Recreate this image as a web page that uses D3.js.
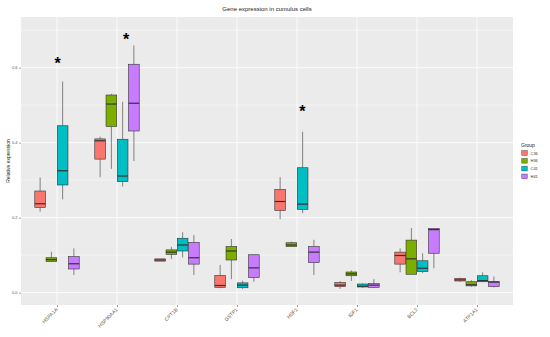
<!DOCTYPE html>
<html>
<head>
<meta charset="utf-8">
<script src="https://cdn.jsdelivr.net/npm/d3@7"></script>
<style>
  body { margin: 0; background: #fff; }
  text { font-family: "Liberation Sans", Arial, sans-serif; }
</style>
</head>
<body>
<div id="chart"></div>
<script>
var genes = ["HSPA1A", "HSP90AA1", "CPT1B", "GSTP1", "HSF1", "IGF1", "BCL2", "ATP1A1"];
var groups = ["C36", "H36", "C41", "H41"];
var groupColors = ["#F8766D", "#7CAE00", "#00BFC4", "#C77CFF"];

// each entry: [min, q1, median, q3, max] for one gene
var c36 = [
  [0.216, 0.227, 0.237, 0.271, 0.307],
  [0.308, 0.356, 0.405, 0.410, 0.416],
  [0.084, 0.084, 0.087, 0.090, 0.090],
  [0.012, 0.014, 0.019, 0.046, 0.074],
  [0.196, 0.219, 0.243, 0.275, 0.308],
  [0.010, 0.016, 0.020, 0.027, 0.031],
  [0.054, 0.076, 0.099, 0.108, 0.118],
  [0.029, 0.031, 0.034, 0.038, 0.040]
];
var h36 = [
  [0.082, 0.083, 0.088, 0.093, 0.109],
  [0.330, 0.443, 0.503, 0.527, 0.530],
  [0.090, 0.102, 0.108, 0.114, 0.122],
  [0.036, 0.087, 0.111, 0.123, 0.143],
  [0.122, 0.123, 0.127, 0.133, 0.136],
  [0.031, 0.045, 0.050, 0.055, 0.059],
  [0.049, 0.049, 0.090, 0.140, 0.172],
  [0.016, 0.018, 0.021, 0.029, 0.033]
];
var c41 = [
  [0.249, 0.287, 0.325, 0.445, 0.563],
  [0.283, 0.296, 0.311, 0.409, 0.509],
  [0.094, 0.111, 0.127, 0.145, 0.161],
  [0.010, 0.013, 0.020, 0.026, 0.032],
  [0.212, 0.222, 0.236, 0.333, 0.429],
  [0.013, 0.015, 0.017, 0.023, 0.025],
  [0.052, 0.056, 0.065, 0.085, 0.105],
  [0.028, 0.029, 0.032, 0.045, 0.054]
];
var h41 = [
  [0.047, 0.063, 0.077, 0.096, 0.118],
  [0.351, 0.431, 0.505, 0.609, 0.659],
  [0.047, 0.076, 0.093, 0.134, 0.154],
  [0.029, 0.040, 0.066, 0.101, 0.101],
  [0.047, 0.080, 0.108, 0.123, 0.141],
  [0.012, 0.014, 0.020, 0.024, 0.036],
  [0.065, 0.105, 0.168, 0.171, 0.171],
  [0.014, 0.016, 0.028, 0.030, 0.043]
];
var seriesData = [c36, h36, c41, h41];

// significance stars: gene, offset from gene centre (category units), height
var stars = [
  { gene: "HSPA1A", dx: 0.01, y: 0.613 },
  { gene: "HSP90AA1", dx: 0.15, y: 0.676 },
  { gene: "HSF1", dx: 0.09, y: 0.485 }
];
var yTicks = [0, 0.2, 0.4, 0.6];
var yMinor = [0.1, 0.3, 0.5, 0.7];

var width = 550;
var height = 337;
var panel = { left: 21, right: 513, top: 17, bottom: 305 };

var svg = d3.select("#chart").append("svg")
  .attr("width", width)
  .attr("height", height);

// discrete axis with 0.6 units of expansion on each side
var xScale = d3.scalePoint()
  .domain(genes)
  .range([panel.left, panel.right])
  .padding(0.6);
var step = xScale.step();

var xGroup = d3.scaleBand()
  .domain(groups)
  .range([-0.375 * step, 0.375 * step]);

var yScale = d3.scaleLinear()
  .domain([-0.033, 0.735])
  .range([panel.bottom, panel.top]);

var color = d3.scaleOrdinal().domain(groups).range(groupColors);

// panel background
svg.append("rect")
  .attr("x", panel.left)
  .attr("y", panel.top)
  .attr("width", panel.right - panel.left)
  .attr("height", panel.bottom - panel.top)
  .attr("fill", "#EBEBEB");

// grid lines
svg.append("g").selectAll("line")
  .data(yMinor)
  .enter().append("line")
  .attr("x1", panel.left).attr("x2", panel.right)
  .attr("y1", d => yScale(d)).attr("y2", d => yScale(d))
  .attr("stroke", "#fff").attr("stroke-width", 0.4);

svg.append("g").selectAll("line")
  .data(yTicks)
  .enter().append("line")
  .attr("x1", panel.left).attr("x2", panel.right)
  .attr("y1", d => yScale(d)).attr("y2", d => yScale(d))
  .attr("stroke", "#fff").attr("stroke-width", 0.8);

svg.append("g").selectAll("line")
  .data(genes)
  .enter().append("line")
  .attr("x1", d => xScale(d)).attr("x2", d => xScale(d))
  .attr("y1", panel.top).attr("y2", panel.bottom)
  .attr("stroke", "#fff").attr("stroke-width", 0.8);

// y axis
var yAxis = d3.axisLeft(yScale)
  .tickValues(yTicks)
  .tickFormat(d3.format(".1f"))
  .tickSize(2)
  .tickPadding(1.5);
var yAxisG = svg.append("g")
  .attr("transform", "translate(" + panel.left + ",0)")
  .call(yAxis);
yAxisG.select(".domain").remove();
yAxisG.selectAll("line").attr("stroke", "#444").attr("stroke-width", 0.5);
yAxisG.selectAll("text").attr("fill", "#555").style("font-size", "4px");

// x axis
var xAxis = d3.axisBottom(xScale).tickSize(2).tickFormat("");
var xAxisG = svg.append("g")
  .attr("transform", "translate(0," + panel.bottom + ")")
  .call(xAxis);
xAxisG.select(".domain").remove();
xAxisG.selectAll("line").attr("stroke", "#444").attr("stroke-width", 0.5);

svg.append("g").selectAll("text")
  .data(genes)
  .enter().append("text")
  .attr("transform", d => "translate(" + (xScale(d) + 1) + "," + (panel.bottom + 5) + ") rotate(-45)")
  .attr("text-anchor", "end")
  .attr("fill", "#555")
  .style("font-size", "5px")
  .text(d => d);

// boxes
var boxes = [];
seriesData.forEach((s, gi) => {
  s.forEach((st, i) => {
    boxes.push({ gene: genes[i], group: groups[gi], min: st[0], q1: st[1], med: st[2], q3: st[3], max: st[4] });
  });
});

var boxW = xGroup.bandwidth() * 0.95;
var boxG = svg.append("g").selectAll("g")
  .data(boxes)
  .enter().append("g")
  .attr("transform", d => "translate(" + (xScale(d.gene) + xGroup(d.group) + xGroup.bandwidth() / 2) + ",0)");

boxG.append("line")
  .attr("x1", 0).attr("x2", 0)
  .attr("y1", d => yScale(d.max)).attr("y2", d => yScale(d.q3))
  .attr("stroke", "#666").attr("stroke-width", 0.8);
boxG.append("line")
  .attr("x1", 0).attr("x2", 0)
  .attr("y1", d => yScale(d.q1)).attr("y2", d => yScale(d.min))
  .attr("stroke", "#666").attr("stroke-width", 0.8);
boxG.append("rect")
  .attr("x", -boxW / 2)
  .attr("width", boxW)
  .attr("y", d => yScale(d.q3))
  .attr("height", d => Math.max(yScale(d.q1) - yScale(d.q3), 0.5))
  .attr("fill", d => color(d.group))
  .attr("stroke", "#333").attr("stroke-width", 0.6);
boxG.append("line")
  .attr("x1", -boxW / 2).attr("x2", boxW / 2)
  .attr("y1", d => yScale(d.med)).attr("y2", d => yScale(d.med))
  .attr("stroke", "#333").attr("stroke-width", 1.2);

// stars
svg.append("g").selectAll("text")
  .data(stars)
  .enter().append("text")
  .attr("x", d => xScale(d.gene) + d.dx * step)
  .attr("y", d => yScale(d.y) + 6)
  .attr("text-anchor", "middle")
  .style("font-size", "16px")
  .style("font-weight", "bold")
  .attr("fill", "#000")
  .text("*");

// title
svg.append("text")
  .attr("x", (panel.left + panel.right) / 2)
  .attr("y", 11)
  .attr("text-anchor", "middle")
  .style("font-size", "6px")
  .attr("fill", "#222")
  .text("Gene expression in cumulus cells");

// y label
svg.append("text")
  .attr("transform", "translate(10," + ((panel.top + panel.bottom) / 2) + ") rotate(-90)")
  .attr("text-anchor", "middle")
  .style("font-size", "5px")
  .attr("fill", "#222")
  .text("Relative expression");

// legend
var legend = svg.append("g").attr("transform", "translate(521,0)");
legend.append("text")
  .attr("x", 0).attr("y", 147)
  .style("font-size", "5px")
  .attr("fill", "#222")
  .text("Group");
var legItem = legend.selectAll("g")
  .data(groups)
  .enter().append("g")
  .attr("transform", (d, i) => "translate(0," + (149.5 + i * 7.8) + ")");
legItem.append("rect")
  .attr("x", 0).attr("y", 0)
  .attr("width", 7).attr("height", 7)
  .attr("fill", "#F2F2F2");
legItem.append("rect")
  .attr("x", 0.8).attr("y", 1.2)
  .attr("width", 5.4).attr("height", 4.6)
  .attr("fill", d => color(d))
  .attr("stroke", "#333").attr("stroke-width", 0.4);
legItem.append("text")
  .attr("x", 9.5).attr("y", 5)
  .style("font-size", "4px")
  .attr("fill", "#333")
  .text(d => d);
</script>
</body>
</html>
